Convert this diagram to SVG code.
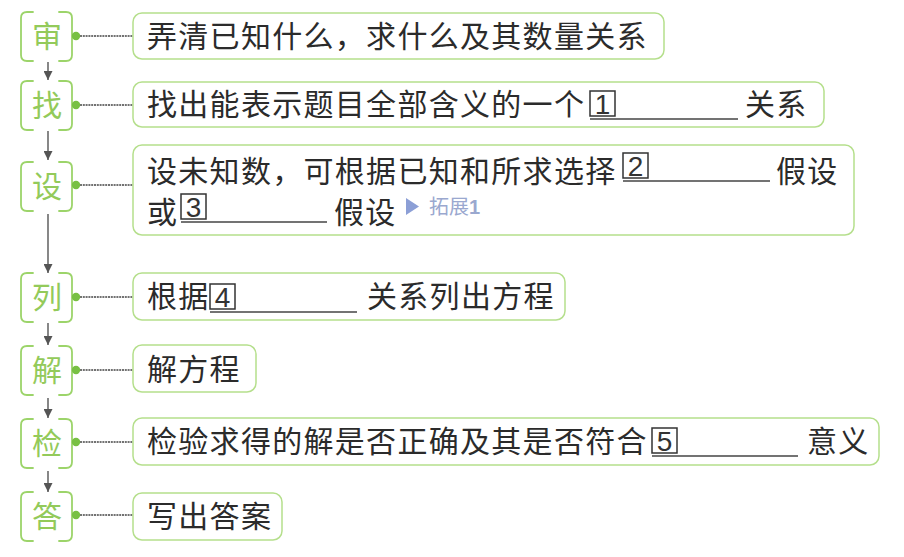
<svg xmlns="http://www.w3.org/2000/svg" width="904" height="557" viewBox="0 0 904 557">
<style>
.br{fill:none;stroke:#9cd46a;stroke-width:1.8;stroke-linecap:round}
.lbl{font-family:"Noto Sans CJK SC","Noto Sans",sans-serif;font-size:30px;fill:#93ca5a;text-anchor:middle}
.dot{fill:#78c043}
.box{fill:#fff;stroke:#b5df8c;stroke-width:1.5}
.t{font-family:"Noto Sans CJK SC","Noto Sans",sans-serif;font-size:30px;fill:#2b2b2b;letter-spacing:1.3px}
.nb{fill:none;stroke:#333;stroke-width:1.5}
.nt{font-family:"Liberation Sans",Arial,sans-serif;font-size:28px;fill:#333;text-anchor:middle}
.ul{stroke:#444;stroke-width:1.6}
.dl{stroke:#444;stroke-width:1.3;stroke-dasharray:2 0.8;fill:none}
.ar{stroke:#555;stroke-width:1.4;fill:none}
.ext{font-family:"Noto Sans CJK SC","Noto Sans",sans-serif;font-size:20px;fill:#9aa8cf}
</style>
<defs>
<marker id="ah" viewBox="0 0 10 10" refX="10" refY="5" markerWidth="9" markerHeight="9" markerUnits="userSpaceOnUse" orient="auto">
<path d="M0,0 L10,5 L0,10 z" fill="#555"/>
</marker>
<path id="brk" d="M13,0 H7 Q1,0 1,6 V43 Q1,49 7,49 H13 M39,0 H46 Q52,0 52,6 V43 Q52,49 46,49 H39"/>
</defs>
<g id="connectors">
<line class="ar" x1="48" y1="62" x2="48" y2="80" marker-end="url(#ah)"/>
<line class="ar" x1="48" y1="131" x2="48" y2="160" marker-end="url(#ah)"/>
<line class="ar" x1="48" y1="214" x2="48" y2="273" marker-end="url(#ah)"/>
<line class="ar" x1="48" y1="323" x2="48" y2="345" marker-end="url(#ah)"/>
<line class="ar" x1="48" y1="398" x2="48" y2="418" marker-end="url(#ah)"/>
<line class="ar" x1="48" y1="471" x2="48" y2="492" marker-end="url(#ah)"/>
<line class="dl" x1="80" y1="36" x2="133" y2="36"/>
<line class="dl" x1="80" y1="105" x2="133" y2="105"/>
<line class="dl" x1="80" y1="185" x2="133" y2="185"/>
<line class="dl" x1="80" y1="297" x2="133" y2="297"/>
<line class="dl" x1="80" y1="370" x2="133" y2="370"/>
<line class="dl" x1="80" y1="442" x2="133" y2="442"/>
<line class="dl" x1="80" y1="515" x2="133" y2="515"/>
</g>
<g id="n1">
<use href="#brk" class="br" transform="translate(20,12)"/>
<text class="lbl" x="47" y="47">审</text>
<circle class="dot" cx="76" cy="36" r="4.2"/>
<rect class="box" x="133" y="13" width="531" height="46" rx="9"/>
<text class="t" x="147" y="47">弄清已知什么，求什么及其数量关系</text>
</g>
<g id="n2">
<use href="#brk" class="br" transform="translate(20,81)"/>
<text class="lbl" x="47" y="116">找</text>
<circle class="dot" cx="76" cy="105" r="4.2"/>
<rect class="box" x="133" y="82" width="691" height="45" rx="9"/>
<text class="t" x="147" y="115">找出能表示题目全部含义的一个</text>
<rect class="nb" x="590" y="91" width="25" height="25"/>
<text class="nt" x="602.5" y="114">1</text>
<line class="ul" x1="590" y1="119" x2="738" y2="119"/>
<text class="t" x="745" y="115">关系</text>
</g>
<g id="n3">
<use href="#brk" class="br" transform="translate(20,162)"/>
<text class="lbl" x="47" y="197">设</text>
<circle class="dot" cx="76" cy="185" r="4.2"/>
<rect class="box" x="133" y="145" width="721" height="90" rx="9"/>
<text class="t" x="147" y="182">设未知数，可根据已知和所求选择</text>
<rect class="nb" x="623" y="153" width="25" height="25"/>
<text class="nt" x="635.5" y="176">2</text>
<line class="ul" x1="623" y1="181" x2="770" y2="181"/>
<text class="t" x="776" y="182">假设</text>
<text class="t" x="147" y="223">或</text>
<rect class="nb" x="181" y="194" width="25" height="25"/>
<text class="nt" x="193.5" y="217">3</text>
<line class="ul" x1="181" y1="222" x2="327" y2="222"/>
<text class="t" x="334" y="223">假设</text>
<path d="M406,198 L419,206.5 L406,215 z" fill="#8c9fd6"/>
<text class="ext" x="429" y="214">拓展<tspan font-family="Liberation Sans,Arial,sans-serif" font-weight="bold">1</tspan></text>
</g>
<g id="n4">
<use href="#brk" class="br" transform="translate(20,273)"/>
<text class="lbl" x="47" y="308">列</text>
<circle class="dot" cx="76" cy="297" r="4.2"/>
<rect class="box" x="133" y="273" width="432" height="47" rx="9"/>
<text class="t" x="147" y="307">根据</text>
<rect class="nb" x="210" y="284" width="25" height="25"/>
<text class="nt" x="222.5" y="307">4</text>
<line class="ul" x1="210" y1="312" x2="357" y2="312"/>
<text class="t" x="367" y="307">关系列出方程</text>
</g>
<g id="n5">
<use href="#brk" class="br" transform="translate(20,346)"/>
<text class="lbl" x="47" y="381">解</text>
<circle class="dot" cx="76" cy="370" r="4.2"/>
<rect class="box" x="133" y="345" width="123" height="47" rx="9"/>
<text class="t" x="147" y="380">解方程</text>
</g>
<g id="n6">
<use href="#brk" class="br" transform="translate(20,419)"/>
<text class="lbl" x="47" y="454">检</text>
<circle class="dot" cx="76" cy="442" r="4.2"/>
<rect class="box" x="133" y="418" width="746" height="47" rx="9"/>
<text class="t" x="147" y="452">检验求得的解是否正确及其是否符合</text>
<rect class="nb" x="652" y="428" width="25" height="25"/>
<text class="nt" x="664.5" y="451">5</text>
<line class="ul" x1="652" y1="456" x2="798" y2="456"/>
<text class="t" x="807" y="452">意义</text>
</g>
<g id="n7">
<use href="#brk" class="br" transform="translate(20,492)"/>
<text class="lbl" x="47" y="527">答</text>
<circle class="dot" cx="76" cy="515" r="4.2"/>
<rect class="box" x="133" y="493" width="149" height="47" rx="9"/>
<text class="t" x="147" y="527">写出答案</text>
</g>
</svg>
